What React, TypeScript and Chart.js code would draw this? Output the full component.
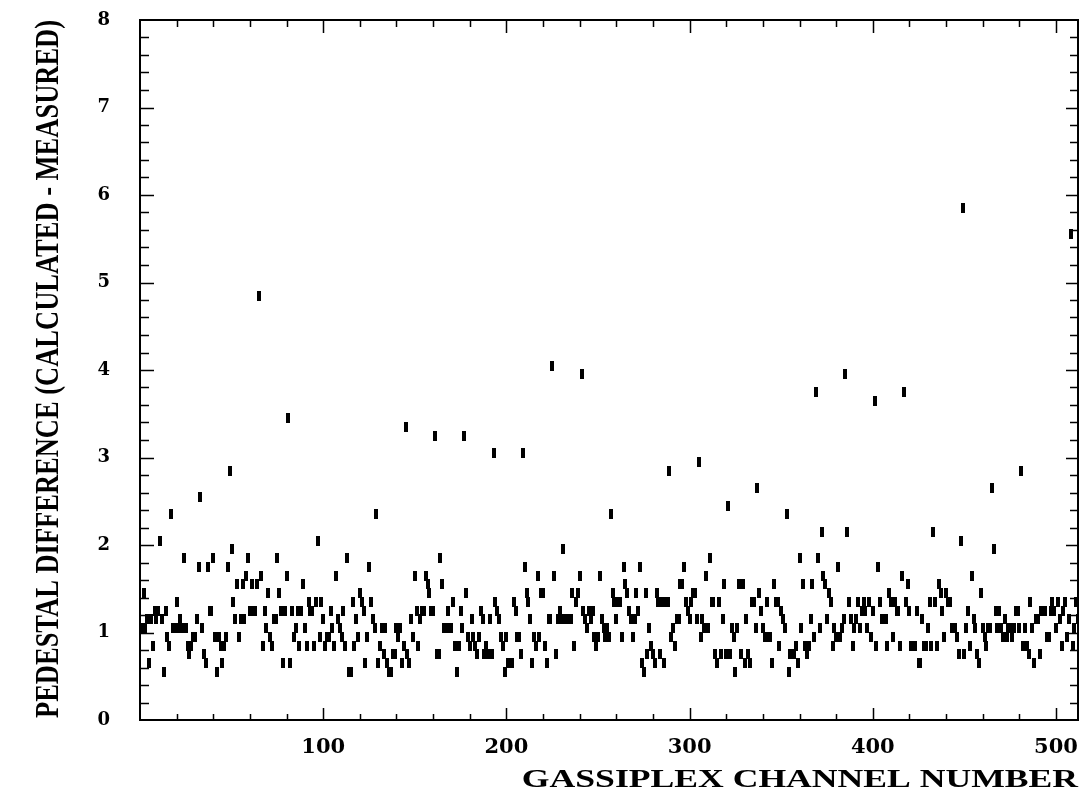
import React, { useEffect, useRef } from "react";
import { Chart, registerables } from "chart.js";

Chart.register(...registerables);

// Pedestal difference per GASSIPLEX channel, channels 1-128
const CHANNELS_1_128 = [
  1.05, 1.45, 1.05, 1.15, 0.65, 1.15, 0.85, 1.25, 1.15, 1.25, 2.05, 1.15, 0.55, 1.25, 0.95, 0.85,
  2.35, 1.05, 1.05, 1.35, 1.05, 1.15, 1.05, 1.85, 1.05, 0.85, 0.75, 0.85, 0.95, 0.95, 1.15, 1.75,
  2.55, 1.05, 0.75, 0.65, 1.75, 1.25, 1.25, 1.85, 0.95, 0.55, 0.95, 0.85, 0.65, 0.85, 0.95, 1.75,
  2.85, 1.95, 1.35, 1.15, 1.55, 0.95, 1.15, 1.55, 1.15, 1.65, 1.85, 1.25, 1.55, 1.25, 1.25, 1.55,
  4.85, 1.65, 0.85, 1.25, 1.05, 1.45, 0.95, 0.85, 1.15, 1.15, 1.85, 1.45, 1.25, 0.65, 1.25, 1.65,
  3.45, 0.65, 1.25, 0.95, 1.05, 1.25, 0.85, 1.25, 1.55, 1.05, 0.85, 1.35, 1.25, 1.25, 0.85, 1.35,
  2.05, 0.95, 1.35, 1.15, 0.85, 0.95, 0.95, 1.25, 1.05, 0.85, 1.65, 1.15, 1.05, 0.95, 1.25, 0.85,
  1.85, 0.55, 0.55, 1.35, 0.85, 1.15, 0.95, 1.45, 1.35, 1.25, 0.65, 0.95, 1.75, 1.35, 1.15, 1.05,
];
// channels 129-256
const CHANNELS_129_256 = [
  2.35, 0.65, 0.85, 1.05, 0.75, 1.05, 0.65, 0.55, 0.55, 0.75, 0.75, 1.05, 0.95, 1.05, 0.65, 0.85,
  3.35, 0.75, 0.65, 1.15, 0.95, 1.65, 1.25, 0.85, 1.15, 1.25, 1.25, 1.65, 1.55, 1.45, 1.25, 1.25,
  3.25, 0.75, 0.75, 1.85, 1.55, 1.05, 1.05, 1.25, 1.05, 1.05, 1.35, 0.85, 0.55, 0.85, 1.25, 1.05,
  3.25, 1.45, 0.95, 0.85, 1.15, 0.95, 0.85, 0.75, 0.95, 1.25, 1.15, 0.75, 0.85, 0.75, 1.15, 0.75,
  3.05, 1.35, 1.25, 1.15, 0.95, 0.85, 0.55, 0.95, 0.65, 0.65, 0.65, 1.35, 1.25, 0.95, 0.95, 0.75,
  3.05, 1.75, 1.45, 1.35, 1.15, 0.65, 0.95, 0.85, 1.65, 0.95, 1.45, 1.45, 0.85, 0.65, 1.15, 1.15,
  4.05, 1.65, 0.75, 1.15, 1.25, 1.15, 1.95, 1.15, 1.15, 1.15, 1.15, 1.45, 0.85, 1.35, 1.45, 1.65,
  3.95, 1.25, 1.15, 1.05, 1.25, 1.15, 1.25, 0.95, 0.85, 0.95, 1.65, 1.15, 1.05, 0.95, 1.05, 0.95,
];
// channels 257-384
const CHANNELS_257_384 = [
  2.35, 1.45, 1.35, 1.15, 1.35, 1.35, 0.95, 1.75, 1.55, 1.45, 1.25, 1.15, 0.95, 1.15, 1.45, 1.25,
  1.75, 0.65, 0.55, 1.45, 0.75, 1.05, 0.85, 0.75, 0.65, 1.45, 1.35, 0.75, 1.35, 0.65, 1.35, 1.35,
  2.85, 0.95, 1.05, 0.85, 1.15, 1.15, 1.55, 1.55, 1.75, 1.35, 1.25, 1.15, 1.35, 1.45, 1.45, 1.15,
  2.95, 0.95, 1.15, 1.05, 1.65, 1.05, 1.85, 1.35, 1.35, 0.75, 0.65, 1.35, 0.75, 1.15, 1.55, 0.75,
  2.45, 0.75, 1.05, 0.95, 0.55, 1.05, 1.55, 0.75, 1.55, 0.65, 1.15, 0.75, 0.65, 1.35, 1.35, 1.05,
  2.65, 1.45, 1.25, 1.05, 0.95, 1.35, 0.95, 0.95, 0.65, 1.55, 1.35, 1.35, 0.85, 1.25, 1.15, 1.05,
  2.35, 0.55, 0.75, 0.75, 0.75, 0.85, 0.65, 1.85, 1.05, 1.55, 0.85, 0.75, 0.85, 1.15, 1.55, 0.95,
  3.75, 1.85, 1.05, 2.15, 1.65, 1.55, 1.15, 1.45, 1.35, 0.85, 1.05, 0.95, 1.75, 0.95, 1.05, 1.15,
];
// channels 385-512
const CHANNELS_385_512 = [
  3.95, 2.15, 1.35, 1.15, 0.85, 1.05, 1.15, 1.35, 1.05, 1.25, 1.35, 1.25, 1.05, 1.35, 0.95, 1.25,
  3.65, 0.85, 1.75, 1.35, 1.15, 1.15, 1.15, 0.85, 1.45, 1.35, 0.95, 1.35, 1.25, 1.25, 0.85, 1.65,
  3.75, 1.35, 1.55, 1.25, 0.85, 0.85, 0.85, 1.25, 0.65, 0.65, 1.15, 0.85, 0.85, 1.05, 1.35, 0.85,
  2.15, 1.35, 0.85, 1.55, 1.45, 1.25, 0.95, 1.45, 1.35, 1.35, 1.05, 1.05, 1.05, 0.95, 0.75, 2.05,
  5.85, 0.75, 1.05, 1.25, 0.85, 1.65, 1.15, 1.05, 0.75, 0.65, 1.45, 1.05, 0.95, 0.85, 1.05, 1.05,
  2.65, 1.95, 1.25, 1.05, 1.25, 1.05, 0.95, 1.15, 0.95, 1.05, 1.05, 0.95, 1.05, 1.25, 1.25, 1.05,
  2.85, 0.85, 1.05, 0.85, 0.75, 1.35, 1.05, 0.65, 1.15, 1.15, 0.75, 1.25, 1.25, 1.25, 0.95, 0.95,
  1.25, 1.35, 1.25, 1.05, 1.35, 1.15, 0.85, 1.25, 1.35, 0.95, 1.15, 5.55, 0.85, 1.05, 1.35, 1.15,
];

const X_TICK_LABELS = [100, 200, 300, 400, 500];
const Y_TICK_LABELS = [0, 1, 2, 3, 4, 5, 6, 7, 8];
const X_TITLE = "GASSIPLEX CHANNEL NUMBER";
const Y_TITLE = "PEDESTAL DIFFERENCE (CALCULATED - MEASURED)";

const SERIF = '"Liberation Serif", "Times New Roman", "DejaVu Serif", serif';
const WIDE_SERIF = '"DejaVu Serif", "Liberation Serif", serif';

const framePlugin = {
  id: "hbookFrame",
  afterDatasetsDraw(chart: any) {
    const { ctx, chartArea, scales } = chart;
    const { left, right, top, bottom } = chartArea;
    const xs = scales.x;
    const ys = scales.y;
    ctx.save();
    ctx.strokeStyle = "#000";
    ctx.lineWidth = 1.5;
    ctx.beginPath();
    for (let v = 20; v < 512; v += 20) {
      const px = Math.round(xs.getPixelForValue(v)) + 0.5;
      const major = v % 100 === 0;
      const lb = major ? 12 : 6;
      const lt = major ? 13 : 7;
      ctx.moveTo(px, bottom);
      ctx.lineTo(px, bottom - lb);
      ctx.moveTo(px, top);
      ctx.lineTo(px, top + lt);
    }
    for (let i = 1; i < 40; i++) {
      const v = i * 0.2;
      const py = Math.round(ys.getPixelForValue(v)) + 0.5;
      const major = i % 5 === 0;
      const ll = major ? 14 : 9;
      const lr = major ? 12 : 8;
      ctx.moveTo(left, py);
      ctx.lineTo(left + ll, py);
      ctx.moveTo(right, py);
      ctx.lineTo(right - lr, py);
    }
    ctx.stroke();
    ctx.lineWidth = 2;
    ctx.strokeRect(left, top, right - left, bottom - top);
    ctx.restore();
  },
  afterDraw(chart: any) {
    const { ctx, chartArea } = chart;
    ctx.save();
    ctx.fillStyle = "#000";
    ctx.save();
    ctx.font = `bold 26px ${SERIF}`;
    ctx.textAlign = "right";
    ctx.textBaseline = "alphabetic";
    ctx.translate(chartArea.right, 787);
    ctx.scale(1.37, 1);
    ctx.fillText(X_TITLE, 0, 0);
    ctx.restore();
    ctx.font = `bold 34px ${SERIF}`;
    const w = ctx.measureText(Y_TITLE).width;
    const target = 698;
    ctx.translate(46, 369);
    ctx.rotate(-Math.PI / 2);
    ctx.scale(target / w, 1);
    ctx.textAlign = "center";
    ctx.fillText(Y_TITLE, 0, 12);
    ctx.restore();
  },
};

export default function App() {
  const canvasRef = useRef<HTMLCanvasElement | null>(null);

  useEffect(() => {
    const canvas = canvasRef.current;
    if (!canvas) return;
    const values = [...CHANNELS_1_128, ...CHANNELS_129_256, ...CHANNELS_257_384, ...CHANNELS_385_512];
    const points = values.map((v, i) => ({ x: i + 1, y: v }));

    const mark = document.createElement("canvas");
    mark.width = 4;
    mark.height = 10;
    const mctx = mark.getContext("2d");
    if (mctx) {
      mctx.fillStyle = "#000";
      mctx.fillRect(0, 0, 4, 10);
    }

    const chart = new Chart(canvas, {
      type: "scatter",
      data: {
        datasets: [
          {
            data: points,
            pointStyle: mark as any,
            pointRadius: 3,
            pointHoverRadius: 3,
            backgroundColor: "#000",
            borderColor: "#000",
            showLine: false,
          },
        ],
      },
      options: {
        responsive: false,
        animation: false,
        events: [],
        layout: { padding: { left: 0, top: 20, right: 7, bottom: 0 } },
        plugins: {
          legend: { display: false },
          tooltip: { enabled: false },
          title: { display: false },
        },
        scales: {
          x: {
            type: "linear",
            min: 0,
            max: 512,
            afterFit: (s: any) => {
              s.height = 84;
              s.paddingLeft = 0;
              s.paddingRight = 0;
              s.paddingTop = 0;
              s.paddingBottom = 0;
            },
            grid: { display: false, drawTicks: false },
            border: { display: false },
            ticks: {
              stepSize: 100,
              includeBounds: false,
              autoSkip: false,
              maxRotation: 0,
              padding: 15,
              color: "#000",
              font: { family: WIDE_SERIF, size: 21, weight: "bold" },
              callback: (v: any) => (X_TICK_LABELS.includes(Number(v)) ? String(v) : ""),
            },
          },
          y: {
            type: "linear",
            min: 0,
            max: 8,
            afterFit: (s: any) => {
              s.width = 140;
              s.paddingLeft = 0;
              s.paddingRight = 0;
              s.paddingTop = 0;
              s.paddingBottom = 0;
            },
            grid: { display: false, drawTicks: false },
            border: { display: false },
            ticks: {
              stepSize: 1,
              autoSkip: false,
              padding: 30,
              color: "#000",
              font: { family: WIDE_SERIF, size: 18, weight: "bold" },
              callback: (v: any) => (Y_TICK_LABELS.includes(Number(v)) ? String(v) : ""),
            },
          },
        },
      },
      plugins: [framePlugin],
    });
    return () => chart.destroy();
  }, []);

  return (
    <div style={{ position: "absolute", left: 0, top: 0, width: 1085, height: 804, background: "#fff" }}>
      <canvas ref={canvasRef} width={1085} height={804} style={{ display: "block" }} />
    </div>
  );
}
